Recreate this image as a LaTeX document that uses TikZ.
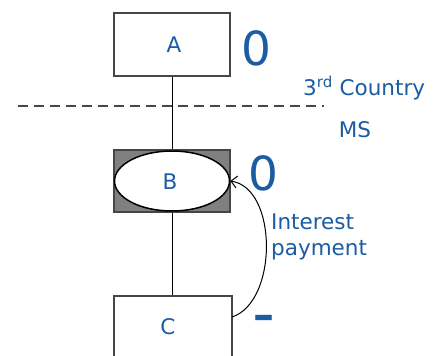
\documentclass[tikz,border=0pt]{standalone}
\usepackage{fontspec}
\setmainfont{DejaVu Sans}
\usetikzlibrary{arrows.meta,calc,shapes.geometric}
\definecolor{txtblue}{RGB}{28,92,162}
\definecolor{edgegray}{RGB}{70,70,70}
\definecolor{fillgray}{RGB}{128,128,128}
\tikzset{
  box/.style={draw=edgegray, line width=1.5pt, fill=white, rectangle, inner sep=0pt},
  lbl/.style={text=txtblue, font=\fontsize{21.5}{26}\selectfont, inner sep=0pt},
  big/.style={text=txtblue, font=\fontsize{47}{50}\selectfont, inner sep=0pt},
  link/.style={draw=black, line width=1pt},
}
\begin{document}
\begin{tikzpicture}[x=1pt, y=-1pt]
\useasboundingbox (0,0) rectangle (442,356);
\clip (0,0) rectangle (442,356);
\fill[white] (0,0) rectangle (442,356);

% entities
\node[box, minimum width=116pt, minimum height=63pt] (A) at (172,44.5) {};
\node[lbl] (At) at (174,45) {A};
\node[box, fill=fillgray, minimum width=116pt, minimum height=62pt] (B) at (172,181) {};
\node[draw=black, line width=1.5pt, fill=white, ellipse, minimum width=115pt, minimum height=60pt, inner sep=0pt] (Be) at (172,181) {};
\node[lbl] (Bt) at (170,182) {B};
\node[box, anchor=north, minimum width=118pt, minimum height=120pt] (C) at (173,295) {};
\node[lbl] (Ct) at (168,327) {C};

% connections
\draw[link] (A.south) -- (B.north);
\draw[link] (B.south) -- (C.north -| B.south);

% border between third country and member state
\coordinate (dl) at (18,106);
\coordinate (dr) at (324,106);
\draw[edgegray, line width=1.3pt, dash pattern=on 10pt off 6pt] (dl) -- (dr);
\node[lbl, anchor=west] (tc) at (303,88) {3\textsuperscript{rd} Country};
\node[lbl] (ms) at (355,130) {MS};

% tax results
\node[big] (zA) at (256,48) {0};
\node[big] (zB) at (263,173) {0};
\node[big, font=\fontsize{42}{46}\selectfont\bfseries] (mC) at (264,322) {\textendash};

% interest payment from C to B
\coordinate (cs) at (232,317);
\draw[link, line width=1pt, -{Straight Barb[length=6pt,width=12pt]}] (cs) .. controls (278,302) and (278,188) .. (Be.east);
\node[lbl, anchor=west, align=left] (ip) at (271,237) {Interest\\payment};
\end{tikzpicture}
\end{document}
